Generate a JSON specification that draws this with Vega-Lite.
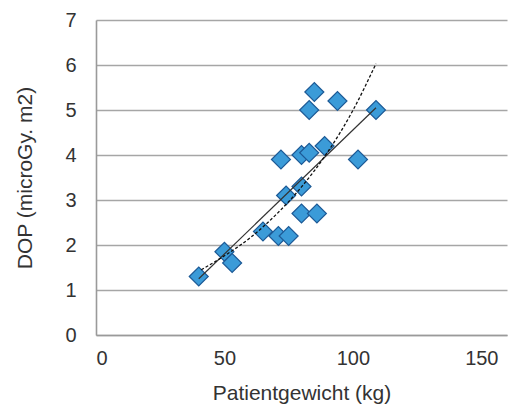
{
  "$schema": "https://vega.github.io/schema/vega-lite/v6.json",
  "width": 411,
  "height": 315,
  "autosize": {"type": "none"},
  "padding": {"left": 96, "top": 20, "right": 21, "bottom": 78},
  "background": "white",
  "config": {
    "view": {"stroke": null},
    "font": "Liberation Sans",
    "axis": {"labelFont": "Liberation Sans", "titleFont": "Liberation Sans", "labelFontSize": 20, "titleFontSize": 21, "titleFontWeight": "normal", "labelColor": "#333333", "titleColor": "#333333", "domainColor": "#9a9a9a", "domainWidth": 1.6, "tickSize": 0, "gridColor": "#a6a6a6", "gridWidth": 1.6}
  },
  "datasets": {
    "points": [
      {"w": 40, "d": 1.3},
      {"w": 50, "d": 1.85},
      {"w": 53, "d": 1.6},
      {"w": 65, "d": 2.3},
      {"w": 71, "d": 2.2},
      {"w": 75, "d": 2.2},
      {"w": 80, "d": 2.7},
      {"w": 86, "d": 2.7},
      {"w": 74, "d": 3.1},
      {"w": 80, "d": 3.3},
      {"w": 72, "d": 3.9},
      {"w": 80, "d": 4.0},
      {"w": 83, "d": 4.05},
      {"w": 89, "d": 4.2},
      {"w": 102, "d": 3.9},
      {"w": 83, "d": 5.0},
      {"w": 85, "d": 5.4},
      {"w": 94, "d": 5.2},
      {"w": 109, "d": 5.0}
    ],
    "linear": [
      {"w": 40, "d": 1.25},
      {"w": 109, "d": 5.05}
    ],
    "curve": [
      {"w": 41, "d": 1.45},
      {"w": 50, "d": 1.76},
      {"w": 60, "d": 2.16},
      {"w": 70, "d": 2.67},
      {"w": 80, "d": 3.29},
      {"w": 90, "d": 4.05},
      {"w": 100, "d": 4.99},
      {"w": 109, "d": 6.03}
    ]
  },
  "layer": [
    {
      "data": {"name": "points"},
      "mark": {"type": "point", "shape": "diamond", "filled": true, "size": 360, "fill": "#3b9bd8", "stroke": "#1d5a96", "strokeWidth": 1.2, "opacity": 1},
      "encoding": {
        "x": {"field": "w", "type": "quantitative", "scale": {"domain": [0, 150]}, "axis": {"values": [0, 50, 100, 150], "grid": false, "title": "Patientgewicht (kg)", "labelPadding": 13, "titlePadding": 14}},
        "y": {"field": "d", "type": "quantitative", "scale": {"domain": [0, 7]}, "axis": {"values": [0, 1, 2, 3, 4, 5, 6, 7], "grid": true, "title": "DOP (microGy. m2)", "labelPadding": 20, "titlePadding": 29}}
      }
    },
    {
      "data": {"name": "linear"},
      "mark": {"type": "line", "color": "#333333", "strokeWidth": 1.2},
      "encoding": {
        "x": {"field": "w", "type": "quantitative"},
        "y": {"field": "d", "type": "quantitative"}
      }
    },
    {
      "data": {"name": "curve"},
      "mark": {"type": "line", "color": "#111111", "strokeWidth": 1.3, "strokeDash": [3, 2], "interpolate": "monotone"},
      "encoding": {
        "x": {"field": "w", "type": "quantitative"},
        "y": {"field": "d", "type": "quantitative"}
      }
    }
  ]
}
